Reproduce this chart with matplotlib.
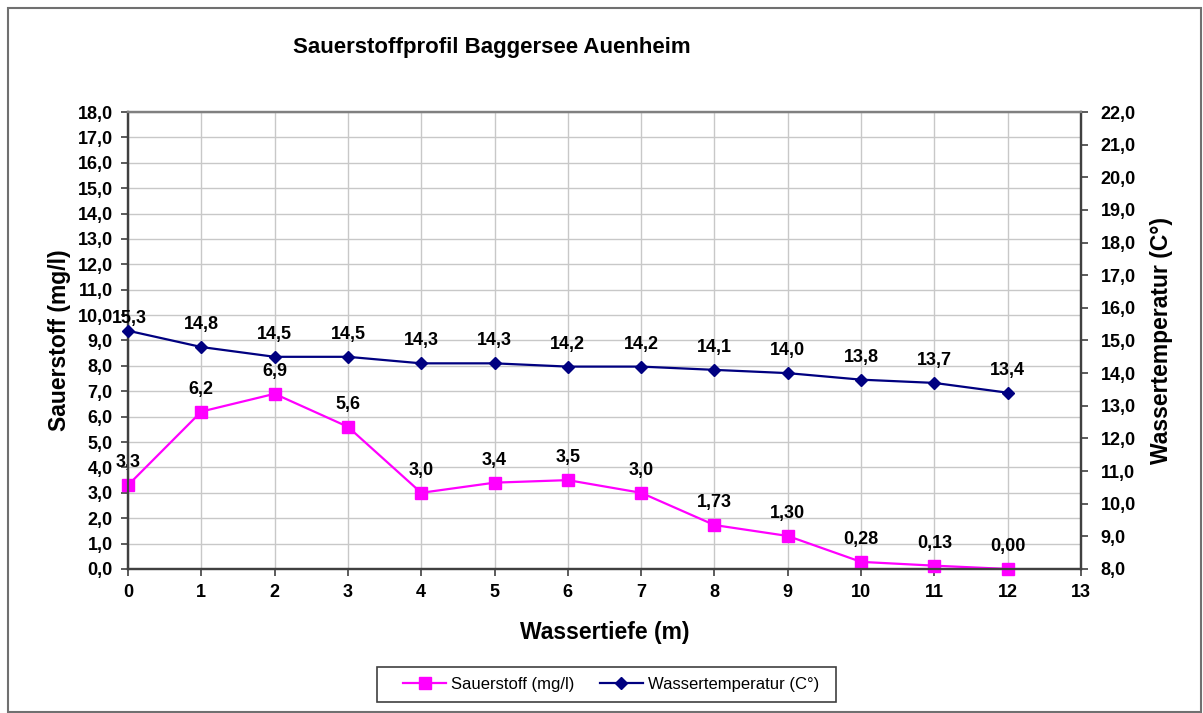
import matplotlib.pyplot as plt
from matplotlib.patches import Rectangle

plt.rcParams['font.family'] = ['Liberation Sans', 'DejaVu Sans']

depth = [0, 1, 2, 3, 4, 5, 6, 7, 8, 9, 10, 11, 12]
oxygen = [3.3, 6.2, 6.9, 5.6, 3.0, 3.4, 3.5, 3.0, 1.73, 1.30, 0.28, 0.13, 0.00]
oxygen_labels = ['3,3', '6,2', '6,9', '5,6', '3,0', '3,4', '3,5', '3,0',
                 '1,73', '1,30', '0,28', '0,13', '0,00']
temperature = [15.3, 14.8, 14.5, 14.5, 14.3, 14.3, 14.2, 14.2, 14.1, 14.0, 13.8, 13.7, 13.4]
temp_labels = ['15,3', '14,8', '14,5', '14,5', '14,3', '14,3', '14,2', '14,2',
               '14,1', '14,0', '13,8', '13,7', '13,4']


def comma(v, pos=None):
    return f"{v:.1f}".replace('.', ',')


fig = plt.figure(figsize=(12.03, 7.13), dpi=100)
ax = fig.add_axes([0.1064, 0.2020, 0.7922, 0.6409])
ax2 = ax.twinx()

# outer chart border
fig.patches.append(Rectangle((0.0066, 0.0014), 0.9920, 0.9874, transform=fig.transFigure,
                             fill=False, edgecolor='#707070', linewidth=1.5))

l1, = ax.plot(depth, oxygen, color='#FF00FF', linewidth=1.6, marker='s', markersize=8.5,
              label='Sauerstoff (mg/l)', zorder=3, clip_on=False)
l2, = ax2.plot(depth, temperature, color='#000080', linewidth=1.6, marker='D', markersize=6.5,
               label='Wassertemperatur (C°)', zorder=3, clip_on=False)

for x, y, t in zip(depth, oxygen, oxygen_labels):
    ax.annotate(t, (x, y), xytext=(0, 10), textcoords='offset points', ha='center',
                va='bottom', fontsize=13, fontweight='bold')
for i, (x, y, t) in enumerate(zip(depth, temperature, temp_labels)):
    off = 3 if i == 0 else 10
    ax2.annotate(t, (x, y), xytext=(1 if i == 0 else 0, off), textcoords='offset points',
                 ha='center', va='bottom', fontsize=13, fontweight='bold')

ax.set_xlim(0, 13)
ax.set_ylim(0, 18)
ax2.set_ylim(8, 22)
ax.set_xticks(range(0, 14))
ax.set_yticks(range(0, 19))
ax2.set_yticks(range(8, 23))
ax.yaxis.set_major_formatter(plt.FuncFormatter(comma))
ax2.yaxis.set_major_formatter(plt.FuncFormatter(comma))

ax.grid(True, color='#C8C8C8', linewidth=1)
ax.set_axisbelow(True)

for a in (ax, ax2):
    a.tick_params(axis='both', direction='out', length=5, width=1.2, colors='#404040',
                  labelcolor='black', labelsize=13, pad=6)
    for lab in a.get_xticklabels() + a.get_yticklabels():
        lab.set_fontweight('bold')
    for side in ('left', 'right', 'bottom'):
        a.spines[side].set_color('#404040')
        a.spines[side].set_linewidth(1.6)
    a.spines['top'].set_color('#808080')
    a.spines['top'].set_linewidth(1.6)
ax2.tick_params(axis='y', pad=9)

ax.set_xlabel('Wassertiefe (m)', fontsize=16.5, fontweight='bold', labelpad=14)
ax.set_ylabel('Sauerstoff (mg/l)', fontsize=16.5, fontweight='bold', labelpad=5)
ax2.set_ylabel('Wassertemperatur (C°)', fontsize=16.5, fontweight='bold', labelpad=10)

fig.text(0.409, 0.934, 'Sauerstoffprofil Baggersee Auenheim', ha='center', va='center',
         fontsize=16, fontweight='bold')

# legend box drawn separately so its padding matches the original
fig.patches.append(Rectangle((0.3134, 0.0154), 0.3815, 0.0491, transform=fig.transFigure,
                             fill=False, edgecolor='#404040', linewidth=1.2))
leg = fig.legend(handles=[l1, l2], loc='center left', bbox_to_anchor=(0.335, 0.040), ncol=2,
                 fontsize=12, frameon=False, handlelength=2.6, handletextpad=0.3,
                 columnspacing=1.5, borderpad=0, borderaxespad=0)

fig.savefig('out.png', dpi=100)
